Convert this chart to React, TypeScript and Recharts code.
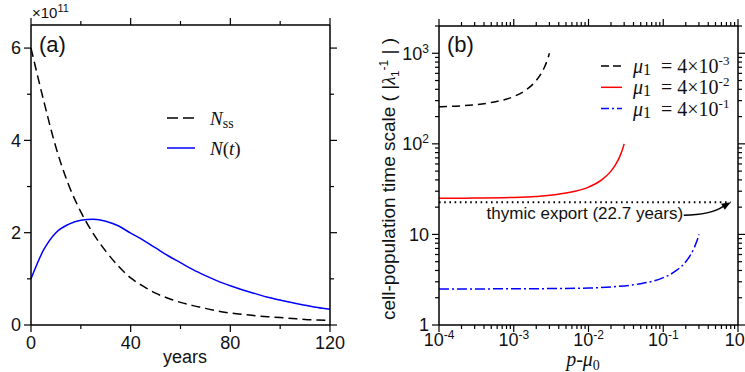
import React from "react";
import { LineChart, Line, XAxis, YAxis, ReferenceLine, ReferenceDot } from "recharts";

const SANS = '"Liberation Sans", Arial, sans-serif';
const SERIF = '"Liberation Serif", "Times New Roman", serif';

// ---- panel (a): cell numbers (x10^11) vs years ----
const years = [0, 5, 10, 15, 20, 25, 30, 35, 40, 45, 50, 55, 60, 65, 70, 75, 80, 85, 90, 95, 100, 105, 110, 115, 120];
const nSteady = [6.0, 4.88, 3.85, 3.05, 2.45, 1.98, 1.6, 1.28, 1.02, 0.84, 0.69, 0.58, 0.49, 0.42, 0.36, 0.3, 0.26, 0.23, 0.2, 0.18, 0.16, 0.14, 0.12, 0.11, 0.1];
const nTime = [1.0, 1.62, 2.0, 2.18, 2.27, 2.29, 2.25, 2.15, 1.99, 1.84, 1.67, 1.5, 1.35, 1.2, 1.07, 0.95, 0.85, 0.76, 0.68, 0.6, 0.54, 0.48, 0.43, 0.38, 0.34];
const yearTicks = [0, 20, 40, 60, 80, 100, 120];
const yearLabels = [0, 40, 80, 120];
const countTicks = [0, 1, 2, 3, 4, 5, 6];
const countLabels = [0, 2, 4, 6];

// ---- panel (b): time scale vs p - mu0 (log-log) ----
const mu3X = [1e-4, 2e-4, 5e-4, 1e-3, 1.5e-3, 2e-3, 2.3e-3, 2.6e-3, 2.8e-3, 2.9e-3, 3e-3];
const mu3Y = [256, 263, 286, 333, 400, 500, 588, 714, 833, 909, 1000];
const mu2X = [1e-4, 3e-4, 1e-3, 2e-3, 5e-3, 1e-2, 1.5e-2, 2e-2, 2.3e-2, 2.6e-2, 2.8e-2, 2.9e-2, 3e-2];
const mu2Y = [25.06, 25.2, 25.6, 26.3, 28.6, 33.3, 40, 50, 58.8, 71.4, 83.3, 90.9, 100];
const mu1X = [1e-4, 1e-3, 1e-2, 2e-2, 5e-2, 0.1, 0.15, 0.2, 0.23, 0.26, 0.28, 0.29, 0.3];
const mu1Y = [2.5, 2.51, 2.56, 2.63, 2.86, 3.33, 4.0, 5.0, 5.88, 7.14, 8.33, 9.09, 10];
const thymicYears = 22.7;
const thymicEndX = 0.8;
const decadesX = [1e-4, 1e-3, 1e-2, 1e-1, 1];
const decadesY = [1, 10, 100, 1000];
const steps = [1, 2, 3, 4, 5, 6, 7, 8, 9];

const logTicks = (decades: number[], max: number) =>
  decades.flatMap((d) => steps.map((s) => s * d)).filter((v) => v <= max * 1.000001);

const xLogTicks = logTicks(decadesX, 1);
const yLogTicks = logTicks(decadesY, 2000);

const dataA = years.map((t, i) => ({ t, nss: nSteady[i], nt: nTime[i] }));
const dataMu3 = mu3X.map((x, i) => ({ x, y: mu3Y[i] }));
const dataMu2 = mu2X.map((x, i) => ({ x, y: mu2Y[i] }));
const dataMu1 = mu1X.map((x, i) => ({ x, y: mu1Y[i] }));

const isIn = (list: number[], v: number) => list.some((m) => Math.abs(m - v) <= Math.abs(m) * 1e-6 + 1e-12);

type Side = "left" | "right" | "top" | "bottom";

function axisTick(side: Side, majors: number[], render?: (v: number) => React.ReactNode, below = 23) {
  return function Tick(props: any) {
    const { x, y, payload } = props;
    const v = payload.value;
    const major = isIn(majors, v);
    const len = major ? 7 : 4;
    let line;
    if (side === "left") line = <line x1={x - len} y1={y} x2={x} y2={y} />;
    else if (side === "right") line = <line x1={x} y1={y} x2={x + len} y2={y} />;
    else if (side === "top") line = <line x1={x} y1={y - len} x2={x} y2={y} />;
    else line = <line x1={x} y1={y} x2={x} y2={y + len} />;
    let label = null;
    if (major && render) {
      if (side === "left")
        label = (
          <text x={x - 10} y={y} dy="0.35em" textAnchor="end" fontSize={18} fontFamily={SANS} fill="#111">
            {render(v)}
          </text>
        );
      else if (side === "bottom")
        label = (
          <text x={x} y={y + below} textAnchor="middle" fontSize={18} fontFamily={SANS} fill="#111">
            {render(v)}
          </text>
        );
    }
    return (
      <g>
        <g stroke="#000" strokeWidth={1.2}>{line}</g>
        {label}
      </g>
    );
  };
}

const pow10 = (v: number) => {
  const e = Math.round(Math.log10(v));
  return (
    <>
      <tspan>10</tspan>
      <tspan dy={-7} fontSize={12}>{e}</tspan>
    </>
  );
};
const yLogLabel = (v: number) => {
  if (v === 1) return "1";
  if (v === 10) return "10";
  return pow10(v);
};

const axisLine = { stroke: "#000", strokeWidth: 1.5 };

function ArrowShape(props: any) {
  const { cx, cy } = props;
  return (
    <g>
      <path
        d={`M ${cx - 47} ${cy + 13} C ${cx - 30} ${cy + 13}, ${cx - 16} ${cy + 10}, ${cx - 7} ${cy + 4}`}
        fill="none"
        stroke="#000"
        strokeWidth={1.5}
      />
      <polygon points={`${cx},${cy} ${cx - 6},${cy + 7.5} ${cx - 9.6},${cy + 1.5}`} fill="#000" />
    </g>
  );
}

function PanelA() {
  return (
    <LineChart width={370} height={372} data={dataA} margin={{ top: 24, right: 39, bottom: 46, left: 30 }}>
      <XAxis
        dataKey="t"
        type="number"
        domain={[0, 120]}
        ticks={yearTicks}
        interval={0}
        height={1}
        tickSize={0}
        tickMargin={0}
        tickLine={false}
        axisLine={axisLine}
        tick={axisTick("bottom", yearLabels, (v) => String(v), 24)}
      />
      <XAxis
        xAxisId="top"
        orientation="top"
        dataKey="t"
        type="number"
        domain={[0, 120]}
        ticks={yearTicks}
        interval={0}
        height={1}
        tickSize={0}
        tickMargin={0}
        tickLine={false}
        axisLine={axisLine}
        tick={axisTick("top", yearLabels)}
      />
      <YAxis
        type="number"
        domain={[0, 6.5]}
        ticks={countTicks}
        interval={0}
        width={1}
        tickSize={0}
        tickMargin={0}
        tickLine={false}
        axisLine={axisLine}
        allowDataOverflow
        tick={axisTick("left", countLabels, (v) => String(v))}
      />
      <YAxis
        yAxisId="right"
        orientation="right"
        type="number"
        domain={[0, 6.5]}
        ticks={countTicks}
        interval={0}
        width={1}
        tickSize={0}
        tickMargin={0}
        tickLine={false}
        axisLine={axisLine}
        allowDataOverflow
        tick={axisTick("right", countLabels)}
      />
      <Line
        type="monotone"
        dataKey="nss"
        stroke="#000"
        strokeWidth={1.5}
        strokeDasharray="9 5"
        dot={false}
        isAnimationActive={false}
      />
      <Line type="monotone" dataKey="nt" stroke="#0000ff" strokeWidth={1.5} dot={false} isAnimationActive={false} />
    </LineChart>
  );
}

function PanelB() {
  return (
    <LineChart width={375} height={372} margin={{ top: 25, right: 6, bottom: 46, left: 68 }}>
      <XAxis
        dataKey="x"
        type="number"
        scale="log"
        domain={[1e-4, 1]}
        allowDataOverflow
        ticks={xLogTicks}
        interval={0}
        height={1}
        tickSize={0}
        tickMargin={0}
        tickLine={false}
        axisLine={axisLine}
        tick={axisTick("bottom", decadesX, pow10, 21)}
      />
      <XAxis
        xAxisId="top"
        orientation="top"
        dataKey="x"
        type="number"
        scale="log"
        domain={[1e-4, 1]}
        allowDataOverflow
        ticks={xLogTicks}
        interval={0}
        height={1}
        tickSize={0}
        tickMargin={0}
        tickLine={false}
        axisLine={axisLine}
        tick={axisTick("top", decadesX)}
      />
      <YAxis
        type="number"
        scale="log"
        domain={[1, 2000]}
        allowDataOverflow
        ticks={yLogTicks}
        interval={0}
        width={1}
        tickSize={0}
        tickMargin={0}
        tickLine={false}
        axisLine={axisLine}
        tick={axisTick("left", decadesY, yLogLabel)}
      />
      <YAxis
        yAxisId="right"
        orientation="right"
        type="number"
        scale="log"
        domain={[1, 2000]}
        allowDataOverflow
        ticks={yLogTicks}
        interval={0}
        width={1}
        tickSize={0}
        tickMargin={0}
        tickLine={false}
        axisLine={axisLine}
        tick={axisTick("right", decadesY)}
      />
      <ReferenceLine
        segment={[
          { x: 1e-4, y: thymicYears },
          { x: thymicEndX, y: thymicYears },
        ]}
        stroke="#000"
        strokeWidth={2}
        strokeDasharray="1.6 3.6"
        label={{
          value: "thymic export (22.7 years)",
          position: "bottom",
          offset: 5,
          fill: "#111",
          fontSize: 17,
          fontFamily: SANS,
        }}
      />
      <ReferenceDot x={thymicEndX} y={thymicYears} r={0} shape={ArrowShape} />
      <Line
        data={dataMu3}
        dataKey="y"
        type="monotone"
        stroke="#000"
        strokeWidth={1.5}
        strokeDasharray="8 5"
        dot={false}
        isAnimationActive={false}
      />
      <Line data={dataMu2} dataKey="y" type="monotone" stroke="#ff0000" strokeWidth={1.5} dot={false} isAnimationActive={false} />
      <Line
        data={dataMu1}
        dataKey="y"
        type="monotone"
        stroke="#0000ff"
        strokeWidth={1.5}
        strokeDasharray="10 3 2 3"
        dot={false}
        isAnimationActive={false}
      />
    </LineChart>
  );
}

function Overlay() {
  const legendB = [
    { exp: "-3", stroke: "#000", dash: "8 4" },
    { exp: "-2", stroke: "#ff0000", dash: undefined },
    { exp: "-1", stroke: "#0000ff", dash: "8 3 2 3" },
  ];
  return (
    <svg width={745} height={372} style={{ position: "absolute", left: 0, top: 0, pointerEvents: "none" }}>
      {/* panel (a) */}
      <text x={32} y={18} fontFamily={SANS} fontSize={15} fill="#111">
        ×10<tspan dy={-6} fontSize={11}>11</tspan>
      </text>
      <text x={39} y={52} fontFamily={SANS} fontSize={22} fill="#111">(a)</text>
      <text x={185} y={363} textAnchor="middle" fontFamily={SANS} fontSize={18} fill="#111">years</text>
      <line x1={167} y1={118} x2={195} y2={118} stroke="#000" strokeWidth={1.5} strokeDasharray="11 5" />
      <text x={210} y={125} fontFamily={SERIF} fontSize={19} fill="#111">
        <tspan fontStyle="italic">N</tspan>
        <tspan fontSize={14} dy={3}>ss</tspan>
      </text>
      <line x1={167} y1={148} x2={195} y2={148} stroke="#0000ff" strokeWidth={1.5} />
      <text x={210} y={155} fontFamily={SERIF} fontSize={19} fill="#111">
        <tspan fontStyle="italic">N</tspan>(<tspan fontStyle="italic">t</tspan>)
      </text>

      {/* panel (b) */}
      <text x={447} y={52} fontFamily={SANS} fontSize={22} fill="#111">(b)</text>
      <text
        transform="translate(395,179) rotate(-90)"
        textAnchor="middle"
        fontFamily={SANS}
        fontSize={19}
        fill="#111"
      >
        cell-population time scale ( |<tspan fontFamily={SERIF} fontStyle="italic">λ</tspan>
        <tspan fontSize={11} dy={4}>1</tspan>
        <tspan fontSize={12} dy={-11}>-1</tspan>
        <tspan dy={7}> | )</tspan>
      </text>
      <text x={583} y={366} textAnchor="middle" fontFamily={SERIF} fontSize={20} fill="#111">
        <tspan fontStyle="italic">p</tspan>-<tspan fontStyle="italic">μ</tspan>
        <tspan fontSize={14} dy={4}>0</tspan>
      </text>
      {legendB.map((r, i) => {
        const ly = 66 + i * 21.3;
        return (
          <g key={r.exp}>
            <line x1={601} y1={ly} x2={622} y2={ly} stroke={r.stroke} strokeWidth={1.5} strokeDasharray={r.dash} />
            <text x={633} y={ly + 7} fontFamily={SERIF} fontSize={20} fill="#111">
              <tspan fontStyle="italic">μ</tspan>
              <tspan fontSize={16} dy={2}>1</tspan>
              <tspan x={661} dy={-2}>= 4×10</tspan>
              <tspan fontSize={13} dy={-8}>{r.exp}</tspan>
            </text>
          </g>
        );
      })}
    </svg>
  );
}

export default function App() {
  return (
    <div
      style={{
        position: "absolute",
        left: 0,
        top: 0,
        width: 745,
        height: 372,
        overflow: "hidden",
        background: "#fff",
      }}
    >
      <div style={{ position: "absolute", left: 0, top: 0 }}>
        <PanelA />
      </div>
      <div style={{ position: "absolute", left: 370, top: 0 }}>
        <PanelB />
      </div>
      <Overlay />
    </div>
  );
}
